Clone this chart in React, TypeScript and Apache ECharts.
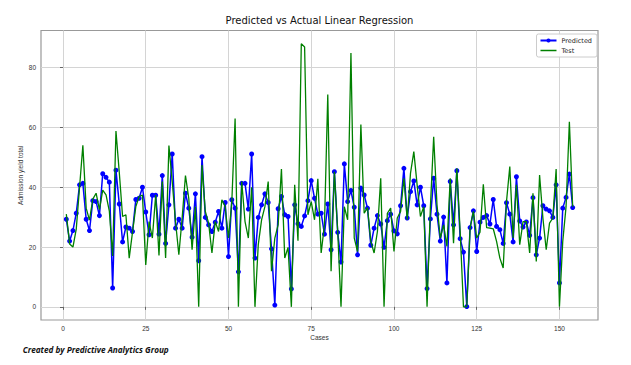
import React, { useEffect, useRef } from "react";
import * as echarts from "echarts";

const titleText = "Predicted vs Actual Linear Regression";
const footerText = "Created by Predictive Analytics Group";
const xTicks = [0, 25, 50, 75, 100, 125, 150];
const yTicks = [0, 20, 40, 60, 80];

const predicted = [
  29.3, 22, 25.5, 31.3, 40.8, 41.3, 29.3, 25.5, 35.5, 35.2,
  30.5, 44.5, 43.3, 41.7, 6.3, 45.7, 34.4, 21.7, 26.7, 26.3,
  25.2, 35.9, 36.3, 40, 31.7, 24.1, 37.3, 37.3, 24.3, 43.9,
  21.2, 34.1, 51.1, 26.3, 29.3, 26.3, 38, 33, 23.3, 37.8,
  15.4, 50.2, 29.9, 27.4, 25.2, 28.3, 31.9, 26.3, 34.9, 16.8,
  35.8, 33, 11.7, 41.3, 41.3, 32.7, 51.1, 16.3, 29.9, 34.1,
  37.8, 34.9, 19.4, 0.6, 32.8, 36.9, 30.8, 30.2, 6, 34.1,
  27.8, 26.9, 30.4, 35.5, 42.2, 36.3, 31, 31.3, 24.3, 34.4,
  19.1, 45.2, 24.9, 15, 47.8, 35.2, 38.9, 33.3, 17.4, 39.7,
  37.4, 33, 20.6, 26.3, 30.5, 27.7, 19.9, 28.8, 31, 25.4,
  24.4, 33.8, 46.3, 29.7, 38.5, 42.1, 34.1, 40, 33.8, 6.1,
  29.4, 43, 31, 22, 30, 8, 41.9, 27.4, 45.5, 22.8,
  18.3, 0.1, 26.5, 32.1, 18.5, 28.3, 29.9, 30.5, 27.7, 35.9,
  26.9, 25.8, 21.2, 34.8, 31, 21.7, 43.5, 28.7, 26.7, 28.4,
  23.9, 36.5, 17.4, 23, 33.8, 32.7, 32.1, 29.9, 40.8, 8,
  33, 36.6, 44.4, 33.2,
];

const test = [
  31, 21, 20, 26, 40, 54, 33, 29, 36, 38,
  32.5, 39, 37.4, 32, 17, 58.8, 45, 30.2, 30.8, 16.3,
  25, 33.5, 36.9, 37.4, 14, 28.5, 23, 37.4, 17.2, 41.9,
  16.3, 53.9, 41.9, 28.5, 17.4, 29.7, 43.9, 36.3, 19.1, 33.5,
  0, 47.4, 31.9, 28, 18, 28.5, 25.2, 35.8, 33.5, 23,
  35, 63, 0, 41.9, 28.5, 23, 40, 0, 20.8, 29.1,
  33.5, 41.9, 11.9, 23, 27.4, 46.1, 16.3, 19.9, 0, 40.8,
  22.1, 88, 86.9, 30.8, 35.2, 29.1, 42.8, 18, 27.4, 71,
  11.9, 45.2, 25.2, 0, 33.5, 29.1, 84.9, 23, 18.5, 61,
  31.3, 33.2, 21.9, 18, 25.2, 43, 0, 31.3, 33, 18.5,
  29.7, 31.9, 43, 29.1, 44.7, 51.9, 40.8, 30.2, 33.5, 0,
  33.2, 56.9, 34.1, 23, 27.4, 20.2, 43, 21.3, 46.3, 25.2,
  0, 0, 26.3, 31.9, 23, 25, 41, 26.5, 26.3, 26.1,
  21.9, 16.3, 13, 35.2, 46.9, 23, 40.8, 20.8, 28.5, 28.5,
  18, 38, 15.2, 44.1, 29.7, 19.1, 28, 29.7, 46.1, 0,
  21.9, 33.5, 61.9, 33.5,
];

export default function App() {
  const ref = useRef<HTMLDivElement>(null);
  useEffect(() => {
    if (!ref.current) return;
    const chart = echarts.init(ref.current, undefined, { renderer: "svg" });
    const predData = predicted.map((v, i) => [i + 1, v]);
    const testData = test.map((v, i) => [i + 1, v]);
    const labelFont = { fontFamily: "Liberation Sans", fontSize: 6.5, color: "#333" };
    chart.setOption({
      animation: false,
      backgroundColor: "#fff",
      grid: {
        left: 41,
        right: 33,
        top: 30.5,
        bottom: 45,
        show: true,
        borderColor: "#999",
        borderWidth: 1.2,
        backgroundColor: "#fff",
      },
      xAxis: {
        type: "value",
        min: -6.65,
        max: 161.65,
        name: "Cases",
        nameLocation: "middle",
        nameGap: 14,
        nameMoveOverlap: false,
        nameTextStyle: { ...labelFont },
        axisLine: { show: false },
        axisTick: { show: true, length: 3, lineStyle: { color: "#666" }, customValues: xTicks },
        axisLabel: { ...labelFont, margin: 5, customValues: xTicks },
        splitLine: { show: true, lineStyle: { color: "#d4d4d4", width: 1 } },
      },
      yAxis: {
        type: "value",
        min: -4.4,
        max: 92.4,
        name: "Admission yield total",
        nameLocation: "middle",
        nameGap: 17,
        nameMoveOverlap: false,
        nameTextStyle: { ...labelFont },
        axisLine: { show: false },
        axisTick: { show: true, length: 3, lineStyle: { color: "#666" }, customValues: yTicks },
        axisLabel: { ...labelFont, margin: 5, customValues: yTicks },
        splitLine: { show: true, lineStyle: { color: "#d4d4d4", width: 1 } },
      },
      legend: {
        orient: "vertical",
        right: 34,
        top: 34,
        itemWidth: 16,
        itemHeight: 5,
        itemGap: 3,
        padding: [3, 5, 3, 3],
        borderColor: "#ccc",
        borderWidth: 1,
        borderRadius: 2,
        backgroundColor: "rgba(255,255,255,0.9)",
        textStyle: { fontFamily: "DejaVu Sans", fontSize: 6.5, color: "#222" },
        data: [
          { name: "Predicted" },
          { name: "Test", icon: "path://M0,0L32,0L32,3L0,3Z" },
        ],
      },
      graphic: [
        {
          type: "text",
          x: 319.5,
          y: 20,
          style: {
            text: titleText,
            font: '10px "DejaVu Sans"',
            fill: "#111",
            textAlign: "center",
            textVerticalAlign: "middle",
          },
        },
        {
          type: "text",
          x: 22.7,
          y: 349.7,
          style: {
            text: footerText,
            font: 'italic bold 8.2px "Open Sans"',
            fill: "#111",
            textAlign: "left",
            textVerticalAlign: "middle",
          },
        },
      ],
      series: [
        {
          name: "Predicted",
          type: "line",
          data: predData,
          symbol: "circle",
          symbolSize: 5,
          showSymbol: true,
          itemStyle: { color: "#0000ff" },
          lineStyle: { color: "#0000ff", width: 1.5 },
          z: 2,
        },
        {
          name: "Test",
          type: "line",
          data: testData,
          symbol: "none",
          itemStyle: { color: "#008000" },
          lineStyle: { color: "#008000", width: 1.3 },
          z: 3,
        },
      ],
    });
    return () => chart.dispose();
  }, []);
  return (
    <div
      ref={ref}
      style={{ position: "fixed", left: 0, top: 0, width: 631, height: 365, background: "#fff" }}
    />
  );
}
